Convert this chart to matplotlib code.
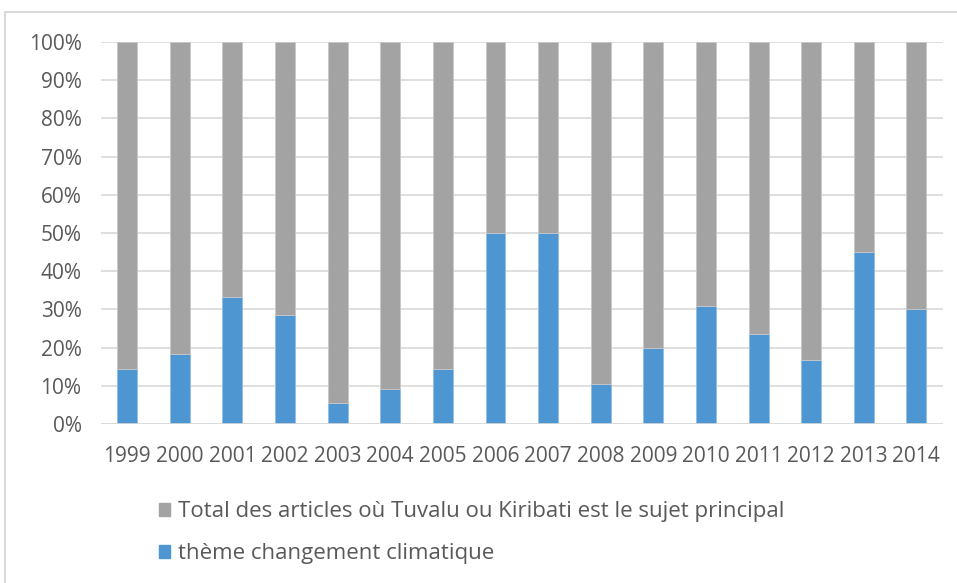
import numpy as np
import matplotlib.pyplot as plt
from matplotlib.patches import Rectangle

# Data (share of articles, %)
years = ["1999", "2000", "2001", "2002", "2003", "2004", "2005", "2006",
         "2007", "2008", "2009", "2010", "2011", "2012", "2013", "2014"]
climat = [14.3, 18.2, 33.3, 28.6, 5.6, 9.1, 14.3, 50.0,
          50.0, 10.5, 20.0, 31.0, 23.5, 16.7, 45.0, 30.0]
label_total = "Total des articles où Tuvalu ou Kiribati est le sujet principal"
label_climat = "thème changement climatique"

blue = "#4E96D1"
gray = "#A3A3A3"
txt = "#595959"

plt.rcParams["font.family"] = ["Open Sans", "DejaVu Sans"]

fig = plt.figure(figsize=(9.57, 5.83), dpi=100)
ax = fig.add_axes([0.1055, 0.2727, 0.8795, 0.6553])

x = np.arange(len(years))
rest = [100 - v for v in climat]
ax.bar(x, climat, width=0.38, color=blue, edgecolor="#8DBDE6", linewidth=0.6, zorder=3)
ax.bar(x, rest, width=0.38, bottom=climat, color=gray, edgecolor="#C8C8C8", linewidth=0.6, zorder=3)

ax.set_xlim(-0.5, len(years) - 0.5)
ax.set_ylim(0, 100)
ax.set_yticks(np.arange(0, 101, 10))
ax.set_yticklabels([f"{v}%" for v in range(0, 101, 10)])
ax.set_xticks(x)
ax.set_xticklabels(years)
ax.tick_params(axis="both", length=0, labelsize=15, colors=txt)
ax.tick_params(axis="x", pad=16)
ax.tick_params(axis="y", pad=14)
ax.grid(axis="y", color="#D9D9D9", linewidth=1.2, zorder=0)
for s in ax.spines.values():
    s.set_visible(False)
ax.axhline(0, color="#D9D9D9", linewidth=1.2, zorder=4)

# Legend (one entry per row, below the plot)
handles = [Rectangle((0, 0), 1, 1, color=gray), Rectangle((0, 0), 1, 1, color=blue)]
fig.legend(handles, [label_total, label_climat], loc="upper left",
           bbox_to_anchor=(0.150, 0.1666), frameon=False, fontsize=16,
           labelcolor=txt, handlelength=0.5, handleheight=0.5,
           handletextpad=0.35, labelspacing=0.94, borderpad=0.2)

# Outer chart frame
fig.patches.append(Rectangle((0.005, -0.01), 1.2, 0.99, transform=fig.transFigure,
                             fill=False, edgecolor="#D9D9D9", linewidth=1.5))

fig.savefig("out.png", dpi=100, facecolor="white")
